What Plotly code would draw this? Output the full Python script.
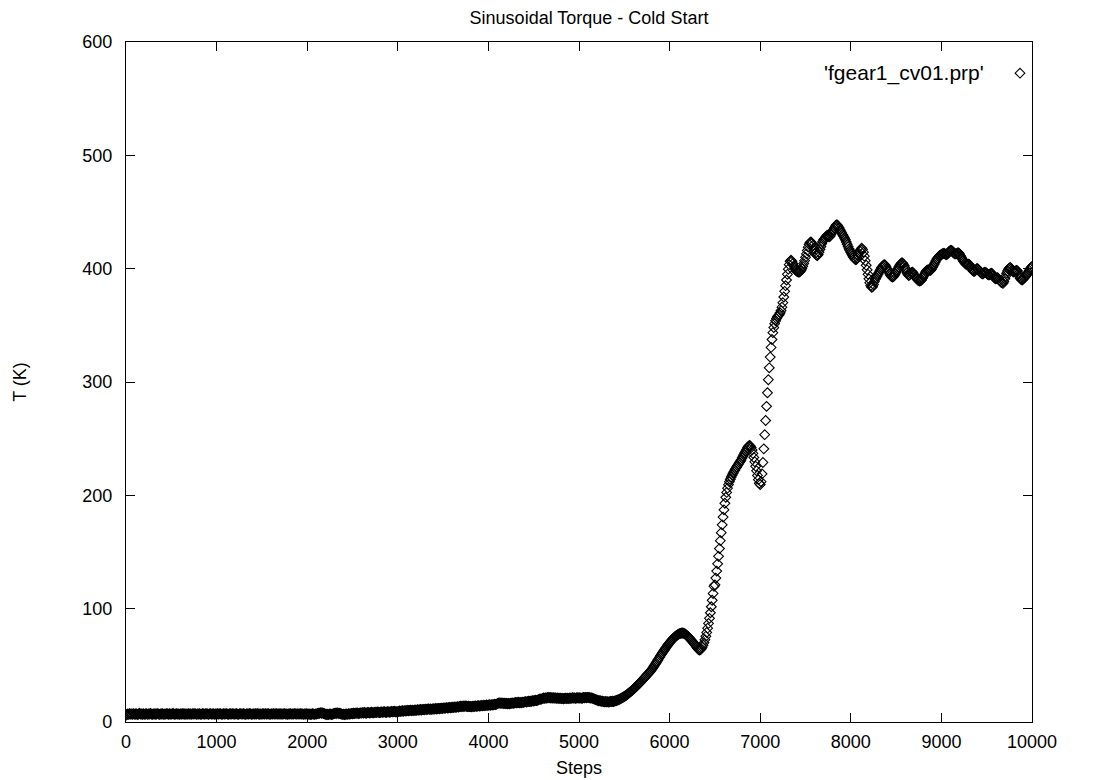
import plotly.graph_objects as go

# Steps sampled every 10 steps from 0 to 10000
steps = list(range(0, 10001, 10))

# Temperature values T (K), one row per 100 steps
temps = [
    6.0, 6.6, 7.1, 6.8, 7.3, 6.9, 7.2, 6.7, 7.4, 7.0,
    6.8, 7.3, 7.0, 6.6, 7.2, 7.5, 6.9, 7.1, 6.7, 7.3,
    7.0, 6.8, 7.4, 7.1, 6.7, 7.2, 6.9, 7.5, 7.0, 6.8,
    7.2, 6.9, 7.3, 6.7, 7.1, 7.4, 7.0, 6.8, 7.2, 6.9,
    7.3, 7.0, 6.7, 7.2, 6.9, 7.4, 7.1, 6.8, 7.3, 7.0,
    6.9, 7.2, 7.5, 7.0, 6.8, 7.1, 7.3, 6.9, 7.2, 6.7,
    7.1, 6.9, 7.3, 7.0, 7.4, 6.8, 7.2, 7.0, 6.9, 7.3,
    7.0, 7.2, 6.8, 7.1, 7.3, 6.9, 7.4, 7.1, 6.8, 7.2,
    6.9, 7.3, 7.0, 6.7, 7.2, 7.4, 7.0, 6.9, 7.3, 7.1,
    7.2, 6.8, 7.1, 7.4, 7.0, 6.9, 7.3, 7.1, 6.8, 7.2,
    7.0, 7.3, 6.9, 7.2, 7.4, 7.0, 6.8, 7.1, 7.3, 6.9,
    7.1, 7.4, 7.0, 6.8, 7.2, 7.3, 6.9, 7.1, 7.4, 7.0,
    6.9, 7.2, 7.3, 7.0, 6.8, 7.1, 7.4, 7.2, 6.9, 7.1,
    7.3, 7.0, 6.8, 7.2, 7.1, 6.9, 7.3, 7.4, 7.0, 6.8,
    7.2, 7.1, 6.9, 7.3, 7.0, 7.4, 7.1, 6.8, 7.2, 7.0,
    6.9, 7.3, 7.1, 7.0, 7.4, 6.9, 7.2, 7.3, 7.0, 6.8,
    7.1, 7.2, 7.0, 7.4, 6.9, 7.1, 7.3, 7.0, 7.2, 6.9,
    7.3, 7.0, 7.2, 6.9, 7.1, 7.4, 7.0, 7.2, 6.8, 7.1,
    7.0, 7.3, 7.1, 6.9, 7.2, 7.0, 7.4, 7.1, 6.9, 7.2,
    7.1, 6.9, 7.2, 7.3, 7.0, 7.1, 6.8, 7.2, 7.0, 7.3,
    7.0, 7.2, 6.8, 7.1, 6.6, 6.9, 7.3, 7.0, 6.7, 7.1,
    6.9, 7.4, 7.8, 7.5, 7.9, 8.2, 7.7, 8.0, 7.6, 7.3,
    7.0, 6.6, 6.9, 6.5, 6.8, 7.2, 6.9, 6.6, 7.0, 7.3,
    7.6, 7.9, 7.5, 8.1, 7.8, 7.4, 7.7, 7.3, 7.0, 6.7,
    6.9, 6.5, 6.8, 7.1, 6.7, 7.0, 7.3, 6.9, 7.2, 7.6,
    7.3, 7.7, 7.4, 7.9, 7.6, 8.0, 7.7, 7.4, 7.8, 8.1,
    7.8, 8.2, 7.9, 8.4, 8.0, 7.7, 8.1, 8.5, 8.2, 7.9,
    8.3, 8.6, 8.2, 8.0, 8.4, 8.7, 8.3, 8.6, 8.9, 8.5,
    8.2, 8.6, 8.9, 8.5, 8.8, 9.1, 8.7, 8.4, 8.8, 9.2,
    8.9, 8.6, 9.0, 9.3, 8.9, 9.2, 9.5, 9.1, 8.8, 9.2,
    9.0, 9.4, 9.7, 9.3, 9.6, 9.9, 9.5, 9.8, 10.1, 9.7,
    10.0, 10.3, 9.9, 10.2, 10.5, 10.1, 10.4, 10.0, 10.3, 10.6,
    10.2, 10.5, 10.8, 10.4, 10.7, 11.0, 10.6, 10.9, 11.2, 10.8,
    11.1, 11.4, 11.0, 11.3, 11.6, 11.2, 11.5, 11.1, 11.4, 11.7,
    11.3, 11.6, 11.9, 11.5, 11.8, 12.1, 11.7, 12.0, 12.3, 11.9,
    12.2, 12.5, 12.1, 12.4, 12.7, 12.3, 12.6, 12.9, 12.5, 12.8,
    13.1, 12.7, 13.0, 13.3, 12.9, 13.2, 13.6, 13.2, 13.5, 13.9,
    13.6, 14.0, 13.7, 14.1, 13.8, 14.2, 13.9, 13.6, 13.9, 13.5,
    13.8, 13.4, 13.7, 14.0, 13.6, 13.9, 14.2, 13.8, 14.1, 14.4,
    14.0, 14.3, 14.6, 14.2, 14.5, 14.8, 14.4, 14.7, 15.0, 14.6,
    14.9, 15.2, 14.8, 15.1, 15.4, 15.0, 15.3, 15.7, 15.4, 15.8,
    16.2, 16.6, 16.9, 16.5, 16.8, 16.4, 16.7, 16.3, 16.6, 16.2,
    16.5, 16.1, 16.4, 16.0, 16.3, 16.7, 16.4, 16.8, 16.5, 16.9,
    17.2, 16.8, 17.1, 17.4, 17.0, 17.3, 16.9, 17.2, 17.6, 17.3,
    17.7, 18.0, 17.6, 17.9, 18.3, 18.0, 18.4, 18.1, 18.5, 18.8,
    18.5, 18.9, 19.2, 18.8, 19.2, 19.6, 19.9, 20.3, 20.0, 20.4,
    20.8, 21.2, 20.9, 21.3, 21.0, 21.4, 21.7, 21.3, 21.6, 21.2,
    21.5, 21.1, 21.4, 21.0, 21.3, 20.9, 21.2, 20.8, 21.1, 20.7,
    21.0, 20.6, 20.9, 20.5, 20.8, 21.1, 20.7, 21.0, 20.6, 20.9,
    21.2, 20.8, 21.1, 21.4, 21.0, 21.3, 20.9, 21.2, 21.5, 21.1,
    21.4, 21.0, 21.3, 20.9, 21.2, 21.6, 21.3, 21.7, 21.4, 21.8,
    21.5, 21.8, 21.4, 21.1, 21.3, 20.9, 20.6, 20.2, 19.9, 19.6,
    19.3, 19.0, 18.7, 18.9, 18.5, 18.2, 18.4, 18.0, 17.8, 18.1,
    17.7, 18.0, 17.8, 17.6, 17.9, 18.2, 17.9, 18.3, 18.1, 18.4,
    18.7, 18.9, 19.2, 19.5, 19.8, 20.2, 20.6, 21.1, 21.6, 22.0,
    22.5, 23.0, 23.6, 24.2, 24.8, 25.5, 26.1, 26.8, 27.5, 28.2,
    29.0, 29.7, 30.4, 31.2, 32.0, 32.8, 33.6, 34.4, 35.2, 36.1,
    37.0, 37.9, 38.8, 39.7, 40.5, 41.4, 42.3, 43.2, 44.1, 45.0,
    46.0, 47.2, 48.4, 49.6, 50.8, 52.0, 53.3, 54.6, 55.9, 57.2,
    58.5, 59.7, 60.9, 62.1, 63.3, 64.5, 65.7, 66.8, 67.9, 69.0,
    70.0, 71.0, 71.9, 72.8, 73.7, 74.5, 75.2, 75.9, 76.5, 77.0,
    77.5, 77.9, 78.2, 78.4, 78.5, 78.4, 78.1, 77.7, 77.1, 76.4,
    75.6, 74.8, 73.9, 73.0, 72.1, 71.2, 70.2, 69.2, 68.2, 67.2,
    66.0, 64.8, 63.9, 63.5, 63.8, 64.6, 66.0, 67.8, 70.0, 72.6,
    75.6, 79.0, 82.8, 87.0, 91.5, 96.4, 101.7, 107.4, 113.4, 119.7,
    121.0, 127.0, 133.2, 139.6, 146.2, 153.0, 160.0, 167.0, 174.0, 180.8,
    187.2, 193.0, 198.2, 202.6, 206.3, 209.4, 212.0, 214.2, 216.1, 217.8,
    219.4, 220.9, 222.3, 223.7, 225.0, 226.3, 227.5, 228.8, 230.0, 231.2,
    233.0, 234.5, 236.0, 237.5, 239.0, 240.5, 242.0, 243.2, 244.0, 243.5,
    242.2, 240.0, 237.0, 233.4, 229.6, 225.6, 221.6, 217.6, 213.8, 210.6,
    209.5, 212.0, 219.0, 229.0, 241.0, 253.5, 266.0, 278.5, 290.5, 302.0,
    312.5, 322.0, 330.5, 337.5, 343.5, 348.0, 351.5, 354.0, 356.0, 357.5,
    358.5, 359.5, 361.0, 363.0, 366.0, 370.0, 375.0, 380.0, 385.0, 390.0,
    395.0, 399.5, 403.5, 406.5, 407.5, 406.5, 404.5, 402.5, 400.5, 399.0,
    398.0, 397.5, 397.0, 397.0, 397.5, 398.5, 400.0, 402.0, 404.5, 407.0,
    410.0, 413.0, 416.0, 419.0, 421.5, 423.0, 423.5, 422.5, 420.5, 418.0,
    415.5, 413.5, 412.0, 411.5, 412.5, 414.5, 417.0, 419.5, 422.0, 424.0,
    425.5, 426.5, 427.5, 428.5, 429.5, 429.0, 428.0, 428.5, 430.0, 431.5,
    433.0, 434.5, 436.0, 437.5, 438.5, 438.5, 437.5, 436.0, 434.5, 433.0,
    431.5, 430.0, 428.5, 427.0, 425.5, 423.5, 421.5, 419.5, 417.5, 416.0,
    414.5, 413.0, 411.5, 410.0, 409.0, 408.0, 408.0, 409.5, 411.5, 413.5,
    415.5, 417.0, 418.0, 417.0, 414.5, 411.0, 407.0, 403.0, 399.0, 395.0,
    391.0, 387.5, 385.0, 383.5, 384.0, 386.0, 388.5, 390.5, 392.0, 393.5,
    395.0, 396.5, 398.0, 399.5, 401.0, 402.0, 403.0, 403.5, 403.0, 401.5,
    400.0, 398.5, 397.0, 395.5, 394.0, 393.0, 392.5, 393.0, 394.0, 395.5,
    397.0, 398.5, 400.0, 401.5, 403.0, 404.0, 405.0, 405.0, 404.0, 402.5,
    400.5, 398.5, 396.5, 395.0, 394.0, 394.5, 395.5, 396.5, 397.0, 396.0,
    394.5, 393.0, 392.0, 391.0, 390.0, 389.5, 389.0, 389.5, 390.0, 391.5,
    393.0, 394.5, 396.0, 397.5, 398.5, 399.0, 399.0, 398.5, 398.5, 399.5,
    401.0, 402.5, 404.0, 405.5, 407.0, 408.5, 409.5, 410.5, 411.5, 412.0,
    412.5, 413.0, 413.5, 413.5, 413.0, 412.5, 412.5, 413.5, 414.5, 415.5,
    416.0, 416.0, 415.5, 414.5, 413.5, 413.0, 413.0, 413.5, 414.0, 414.0,
    413.0, 411.5, 410.0, 408.5, 407.0, 406.0, 405.0, 404.0, 403.5, 403.5,
    404.0, 403.5, 402.0, 400.5, 399.0, 398.0, 397.5, 398.0, 399.0, 400.0,
    400.0, 399.0, 398.0, 397.0, 396.0, 395.5, 395.5, 396.5, 397.0, 396.5,
    396.0, 395.0, 394.5, 394.5, 395.5, 396.0, 395.5, 394.0, 392.5, 391.5,
    391.0, 391.5, 392.0, 391.0, 390.0, 389.0, 388.0, 387.5, 387.0, 388.5,
    391.0, 393.5, 396.0, 398.0, 399.5, 400.5, 401.0, 400.0, 398.5, 397.5,
    397.0, 397.5, 398.0, 398.5, 398.0, 396.0, 393.5, 391.5, 390.5, 390.0,
    390.5, 391.5, 392.5, 393.5, 394.5, 395.5, 397.0, 398.5, 400.0, 401.0,
    402.0,
]

x_ticks = list(range(0, 10001, 1000))
x_tick_text = [str(v) for v in x_ticks]
y_ticks = list(range(0, 601, 100))
series_name = "'fgear1_cv01.prp'"
title_text = "Sinusoidal Torque - Cold Start"
x_label = "Steps"
y_label = "T (K)"

W, H = 1095, 780
L, R, T, B = 126, 63, 42, 58
FONT = "Liberation Sans, Arial, Helvetica, sans-serif"
FS = 18

fig = go.Figure()
fig.add_trace(go.Scatter(
    x=steps, y=temps, mode="markers", name="",
    marker=dict(symbol="diamond-open", size=7.5, color="black",
                line=dict(width=1.1, color="black")),
    showlegend=True,
))

pw = W - L - R
ph = H - T - B

axis_common = dict(
    showline=True, linecolor="black", linewidth=1.2, mirror="allticks",
    ticks="inside", ticklen=9, tickwidth=1, tickcolor="black",
    showgrid=False, zeroline=False,
    tickfont=dict(family=FONT, size=FS, color="black"),
)

fig.update_layout(
    width=W, height=H,
    margin=dict(l=L, r=R, t=T, b=B, autoexpand=False),
    paper_bgcolor="white", plot_bgcolor="white",
    font=dict(family=FONT, size=FS, color="black"),
    title=dict(text=title_text, x=589 / W, xanchor="center",
               y=1 - 18 / H, yanchor="middle",
               font=dict(family=FONT, size=FS, color="black")),
    xaxis=dict(range=[0, 10000], tickvals=x_ticks, ticktext=x_tick_text,
               ticklabelstandoff=3, **axis_common,
               title=dict(text=x_label, standoff=10,
                          font=dict(family=FONT, size=FS, color="black"))),
    yaxis=dict(range=[0, 600], tickvals=y_ticks, **axis_common,
               ticklabelstandoff=9,
               title=dict(text=y_label, standoff=50,
                          font=dict(family=FONT, size=FS, color="black"))),
    legend=dict(x=(1000 - L) / pw, y=1 - (55 - T) / ph, xanchor="left",
                yanchor="top", bgcolor="rgba(0,0,0,0)", borderwidth=0,
                font=dict(family=FONT, size=FS, color="black")),
    annotations=[dict(
        text=series_name, xref="paper", yref="paper",
        x=(986 - L) / pw, y=1 - (73 - T) / ph, xanchor="right",
        yanchor="middle", showarrow=False,
        font=dict(family=FONT, size=21, color="black"),
    )],
)

fig.write_html("out.html")
